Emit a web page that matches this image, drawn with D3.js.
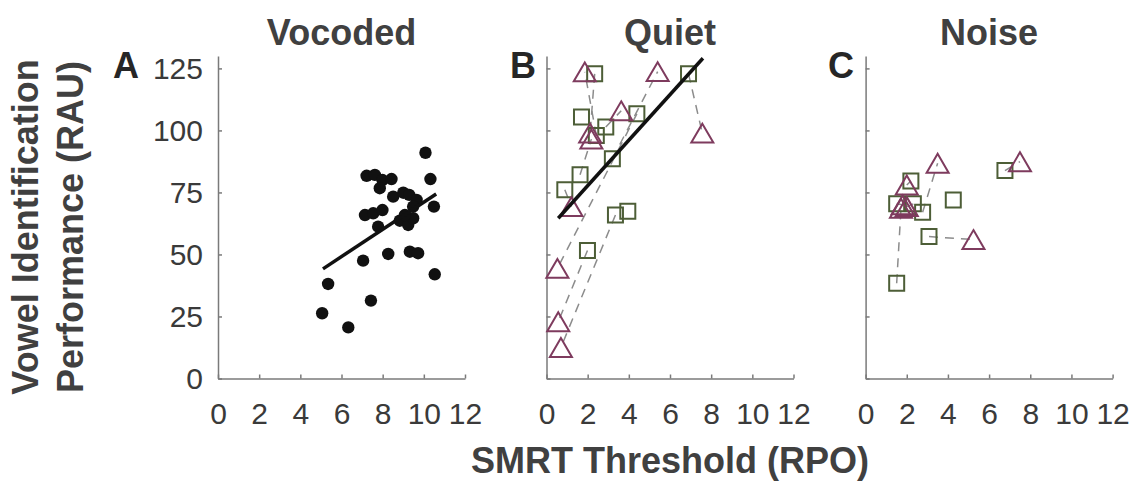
<!DOCTYPE html>
<html>
<head>
<meta charset="utf-8">
<script src="https://cdn.jsdelivr.net/npm/d3@7"></script>
<style>
  body { margin: 0; background: #fff; }
  svg { display: block; font-family: Arial, "Liberation Sans", sans-serif; }
</style>
</head>
<body>
<div id="chart"></div>
<script>
const panelTitles = ["Vocoded", "Quiet", "Noise"];
const panelLetters = ["A", "B", "C"];
const xTicks = [0, 2, 4, 6, 8, 10, 12];
const yTicks = [0, 25, 50, 75, 100, 125];

// panel A: vocoded, one dot per listener [RPO, RAU]
const vocodedPoints = [
  [10.08, 91.0], [10.32, 80.4], [10.49, 69.3], [10.53, 42.0], [7.22, 81.7],
  [7.62, 82.1], [7.99, 80.0], [7.86, 76.7], [8.43, 80.4], [8.51, 73.3],
  [9.0, 74.9], [9.29, 74.0], [9.65, 72.0], [9.48, 69.3], [7.14, 65.9],
  [7.54, 66.6], [7.99, 67.9], [7.78, 61.2], [8.83, 63.6], [9.24, 61.9],
  [9.48, 64.6], [9.08, 65.9], [8.27, 50.2], [9.32, 51.1], [9.72, 50.5],
  [7.05, 47.5], [5.35, 38.1], [7.43, 31.4], [5.06, 26.3], [6.33, 20.6]
];
const vocodedFit = [[5.1, 44.2], [10.6, 74.4]];

// panel B: quiet
const quietSquares = [
  [2.34, 122.8], [6.9, 122.8], [1.7, 105.4], [2.88, 101.4], [4.39, 106.7], [2.42, 98.0],
  [3.2, 88.6], [1.63, 82.1], [0.89, 76.1], [3.35, 65.9], [3.95, 67.4], [1.99, 51.6]
];
const quietTriangles = [
  [1.86, 123.6], [5.4, 123.7], [3.63, 107.9], [2.12, 98.9], [2.18, 96.5],
  [7.57, 98.9], [1.21, 69.3], [0.53, 44.4], [0.57, 22.9], [0.7, 12.5]
];
const quietPairs = [[0, 3], [5, 0], [1, 5], [6, 1], [4, 7], [3, 2], [7, 4], [8, 6], [11, 8], [9, 9]];
const quietFit = [[0.57, 64.6], [7.6, 129.1]];

// panel C: noise
const noiseSquares = [
  [2.2, 79.6], [1.51, 70.4], [2.32, 70.4], [2.77, 67.0], [4.26, 72.0],
  [6.77, 83.8], [3.08, 57.2], [1.51, 38.4]
];
const noiseTriangles = [
  [3.5, 86.8], [7.5, 87.4], [5.24, 56.0], [2.0, 78.0], [1.8, 70.0], [1.72, 68.6], [2.0, 69.3]
];
const noisePairs = [[7, 5], [6, 2], [5, 1], [3, 0], [0, 3], [1, 4], [2, 6]];

const panels = [
  { dots: vocodedPoints, fit: vocodedFit, squares: [], triangles: [], pairs: [] },
  { dots: [], fit: quietFit, squares: quietSquares, triangles: quietTriangles, pairs: quietPairs },
  { dots: [], fit: null, squares: noiseSquares, triangles: noiseTriangles, pairs: noisePairs }
];

const width = 1133, height = 487;
const panelLeft = [218, 546.5, 865.6];
const panelWidth = 247;
const plotTop = 56, plotBottom = 378.5;
const textColor = "#404040";
const axisColor = "#7a7a7a";
const squareColor = "#4d5e37";
const triangleColor = "#7e3b5e";

const svg = d3.select("#chart").append("svg")
  .attr("width", width).attr("height", height)
  .attr("viewBox", [0, 0, width, height]);

const y = d3.scaleLinear().domain([0, 130]).range([plotBottom, plotTop]);

const squareSym = { draw(ctx, size) { const h = Math.sqrt(size) / 2; ctx.rect(-h, -h, 2 * h, 2 * h); } };
const triangleSym = {
  draw(ctx, size) {
    const w = Math.sqrt(size), h = w * 0.86;
    ctx.moveTo(0, -h / 2); ctx.lineTo(w / 2, h / 2); ctx.lineTo(-w / 2, h / 2); ctx.closePath();
  }
};

panels.forEach((p, i) => {
  const x = d3.scaleLinear().domain([0, 12]).range([panelLeft[i], panelLeft[i] + panelWidth]);
  const g = svg.append("g");

  const yAxis = g.append("g")
    .attr("transform", `translate(${panelLeft[i]},0)`)
    .call(d3.axisLeft(y).tickValues(yTicks).tickSize(-4).tickSizeOuter(0).tickPadding(15)
      .tickFormat(i === 0 ? d3.format("d") : ""));
  const xAxis = g.append("g")
    .attr("transform", `translate(0,${plotBottom})`)
    .call(d3.axisBottom(x).tickValues(xTicks).tickSize(-4).tickSizeOuter(0).tickPadding(24));

  [xAxis, yAxis].forEach(a => {
    a.attr("font-size", 30).attr("font-family", "Arial, 'Liberation Sans', sans-serif").attr("color", axisColor);
    a.selectAll("path, line").attr("stroke-width", 1.5);
    a.selectAll("text").attr("fill", "#3a3a3a");
  });

  // dashed lines joining the same listener across groups
  g.append("g").selectAll("line").data(p.pairs).join("line")
    .attr("x1", d => x(p.squares[d[0]][0])).attr("y1", d => y(p.squares[d[0]][1]))
    .attr("x2", d => x(p.triangles[d[1]][0])).attr("y2", d => y(p.triangles[d[1]][1]))
    .attr("stroke", "#8c8c8c").attr("stroke-width", 1.5).attr("stroke-dasharray", "9,7");

  g.append("g").selectAll("circle").data(p.dots).join("circle")
    .attr("cx", d => x(d[0])).attr("cy", d => y(d[1])).attr("r", 6.2).attr("fill", "#111");

  g.append("g").selectAll("path").data(p.squares).join("path")
    .attr("transform", d => `translate(${x(d[0])},${y(d[1])})`)
    .attr("d", d3.symbol().type(squareSym).size(15 * 15))
    .attr("fill", "none").attr("stroke", squareColor).attr("stroke-width", 2);

  g.append("g").selectAll("path").data(p.triangles).join("path")
    .attr("transform", d => `translate(${x(d[0])},${y(d[1])})`)
    .attr("d", d3.symbol().type(triangleSym).size(22 * 22))
    .attr("fill", "none").attr("stroke", triangleColor).attr("stroke-width", 2);

  if (p.fit) {
    g.append("line")
      .attr("x1", x(p.fit[0][0])).attr("y1", y(p.fit[0][1]))
      .attr("x2", x(p.fit[1][0])).attr("y2", y(p.fit[1][1]))
      .attr("stroke", "#111").attr("stroke-width", 3.5);
  }

  svg.append("text")
    .attr("x", panelLeft[i] + panelWidth / 2).attr("y", 45)
    .attr("text-anchor", "middle").attr("font-size", 36).attr("font-weight", "bold")
    .attr("fill", textColor).text(panelTitles[i]);
});

const letterX = [113, 510, 828];
svg.selectAll(".letter").data(panelLetters).join("text")
  .attr("class", "letter")
  .attr("x", (d, i) => letterX[i]).attr("y", 78)
  .attr("font-size", 36).attr("font-weight", "bold").attr("fill", "#262626")
  .text(d => d);

svg.append("text")
  .attr("x", panelLeft[1] + panelWidth / 2).attr("y", 473)
  .attr("text-anchor", "middle").attr("font-size", 36).attr("font-weight", "bold")
  .attr("fill", textColor).text("SMRT Threshold (RPO)");

[["Vowel Identification", 38], ["Performance (RAU)", 83]].forEach(([t, bx]) => {
  svg.append("text")
    .attr("transform", `translate(${bx},227) rotate(-90)`)
    .attr("text-anchor", "middle").attr("font-size", 36).attr("font-weight", "bold")
    .attr("fill", textColor).text(t);
});
</script>
</body>
</html>
